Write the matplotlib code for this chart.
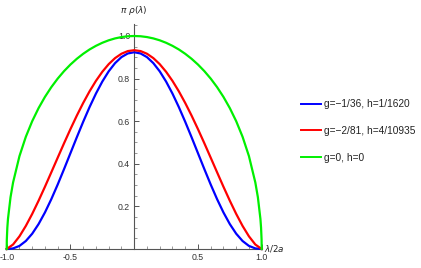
import matplotlib
matplotlib.use("Agg")
import matplotlib.pyplot as plt
from matplotlib.ticker import MultipleLocator, FixedLocator, FixedFormatter

# x = lambda/2a, symmetric samples
x_vals = [-1.0, -0.95, -0.9, -0.85, -0.8, -0.75, -0.7, -0.65, -0.6, -0.55, -0.5,
          -0.45, -0.4, -0.35, -0.3, -0.25, -0.2, -0.15, -0.1, -0.05, 0.0,
          0.05, 0.1, 0.15, 0.2, 0.25, 0.3, 0.35, 0.4, 0.45, 0.5,
          0.55, 0.6, 0.65, 0.7, 0.75, 0.8, 0.85, 0.9, 0.95, 1.0]

blue_vals = [0.0, 0.0027, 0.0145, 0.0375, 0.0718, 0.1170, 0.1716, 0.2341, 0.3027, 0.3754, 0.4500,
             0.5247, 0.5974, 0.6663, 0.7298, 0.7862, 0.8342, 0.8727, 0.9009, 0.9180, 0.9238,
             0.9180, 0.9009, 0.8727, 0.8342, 0.7862, 0.7298, 0.6663, 0.5974, 0.5247, 0.4500,
             0.3754, 0.3027, 0.2341, 0.1716, 0.1170, 0.0718, 0.0375, 0.0145, 0.0027, 0.0]

red_vals = [0.0, 0.0211, 0.0594, 0.1083, 0.1647, 0.2267, 0.2923, 0.3602, 0.4287, 0.4967, 0.5629,
            0.6263, 0.6857, 0.7404, 0.7894, 0.8321, 0.8679, 0.8962, 0.9167, 0.9292, 0.9333,
            0.9292, 0.9167, 0.8962, 0.8679, 0.8321, 0.7894, 0.7404, 0.6857, 0.6263, 0.5629,
            0.4967, 0.4287, 0.3602, 0.2923, 0.2267, 0.1647, 0.1083, 0.0594, 0.0211, 0.0]

green_x = [-1.0, -0.999, -0.995, -0.99, -0.97, -0.95, -0.9, -0.85, -0.8, -0.75, -0.7, -0.65, -0.6,
           -0.55, -0.5, -0.45, -0.4, -0.35, -0.3, -0.25, -0.2, -0.15, -0.1, -0.05, 0.0,
           0.05, 0.1, 0.15, 0.2, 0.25, 0.3, 0.35, 0.4, 0.45, 0.5, 0.55, 0.6, 0.65,
           0.7, 0.75, 0.8, 0.85, 0.9, 0.95, 0.97, 0.99, 0.995, 0.999, 1.0]
green_vals = [0.0, 0.0447, 0.0999, 0.1411, 0.2431, 0.3123, 0.4359, 0.5268, 0.6, 0.6614, 0.7141, 0.7599, 0.8,
              0.8352, 0.8660, 0.8930, 0.9165, 0.9368, 0.9539, 0.9682, 0.9798, 0.9887, 0.9950, 0.9988, 1.0,
              0.9988, 0.9950, 0.9887, 0.9798, 0.9682, 0.9539, 0.9368, 0.9165, 0.8930, 0.8660, 0.8352, 0.8, 0.7599,
              0.7141, 0.6614, 0.6, 0.5268, 0.4359, 0.3123, 0.2431, 0.1411, 0.0999, 0.0447, 0.0]

labels = ["g=\u22121/36, h=1/1620", "g=\u22122/81, h=4/10935", "g=0, h=0"]
colors = ["#0000ff", "#ff0000", "#00f000"]

x_ticks = [-1.0, -0.5, 0.5, 1.0]
x_ticklabels = ["-1.0", "-0.5", "0.5", "1.0"]
y_ticks = [0.2, 0.4, 0.6, 0.8, 1.0]
y_ticklabels = ["0.2", "0.4", "0.6", "0.8", "1.0"]

plt.rcParams['font.family'] = ["Liberation Sans", "DejaVu Sans"]

W, H = 421, 268
fig = plt.figure(figsize=(W / 100, H / 100), dpi=100)
x0, x1 = 6.7, 261.7
y0, y1 = 249.0, 24.0
ax = fig.add_axes([x0 / W, (H - y0) / H, (x1 - x0) / W, (y0 - y1) / H])
ax.set_xlim(-1.0, 1.0)
ax.set_ylim(0, (y0 - y1) / 213.0)

ax.plot(x_vals, blue_vals, color=colors[0], lw=1.6, label=labels[0], clip_on=False, zorder=3)
ax.plot(x_vals, red_vals, color=colors[1], lw=1.6, label=labels[1], clip_on=False, zorder=3)
ax.plot(green_x, green_vals, color=colors[2], lw=1.6, label=labels[2], clip_on=False, zorder=3)

axis_col = "#555555"
for s in ["top", "right"]:
    ax.spines[s].set_visible(False)
ax.spines['left'].set_position(('data', 0))
ax.spines['bottom'].set_position(('data', 0))
ax.spines['left'].set_color(axis_col)
ax.spines['bottom'].set_color(axis_col)
ax.spines['left'].set_linewidth(0.8)
ax.spines['bottom'].set_linewidth(0.8)

ax.xaxis.set_major_locator(FixedLocator(x_ticks))
ax.xaxis.set_major_formatter(FixedFormatter(x_ticklabels))
ax.xaxis.set_minor_locator(MultipleLocator(0.1))
ax.yaxis.set_major_locator(FixedLocator(y_ticks))
ax.yaxis.set_major_formatter(FixedFormatter(y_ticklabels))
ax.yaxis.set_minor_locator(MultipleLocator(0.05))
ax.tick_params(which='major', direction='in', length=3.5, width=0.7, color=axis_col,
               labelsize=6.3, labelcolor="#333333", pad=3)
ax.tick_params(which='minor', direction='in', length=2, width=0.6, color="#888888")
ax.set_facecolor("none")

ax.text(0.0, 1.12, r"$\pi\ \rho(\lambda)$", transform=ax.transData, ha='center', va='center',
        fontsize=6.5, color="#222222")
ax.text(1.02, 0.0, r"$\lambda/2a$", transform=ax.transData, ha='left', va='center',
        fontsize=6.3, color="#222222")

leg = fig.legend(loc='upper left', bbox_to_anchor=(297 / W, 1 - 95 / H), frameon=False,
                 fontsize=7.3, handlelength=2.0, handletextpad=0.3, labelspacing=1.65,
                 borderaxespad=0)
for t in leg.get_texts():
    t.set_color("#222222")
for l in leg.get_lines():
    l.set_linewidth(1.4)

fig.savefig("out.png", dpi=100)
